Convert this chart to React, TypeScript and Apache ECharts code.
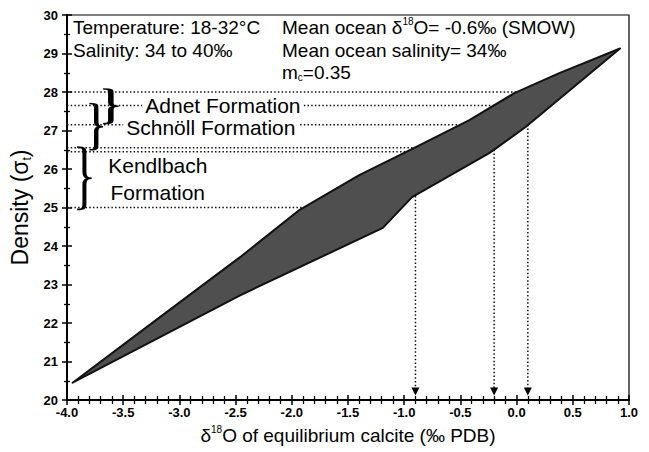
import React, { useEffect, useRef } from 'react';
import * as echarts from 'echarts';

const FONT = '"Liberation Sans", Arial, Helvetica, sans-serif';

const xMin = -4;
const xMax = 1;
const xInterval = 0.5;
const yMin = 20;
const yMax = 30;
const yInterval = 1;

// Envelope of equilibrium calcite density vs d18O (upper edge, left to right)
const upperEdge: number[][] = [
  [-3.95, 20.45], [-3.17, 22.16], [-2.46, 23.71], [-1.93, 24.94], [-1.4, 25.84],
  [-0.95, 26.49], [-0.42, 27.27], [-0.02, 27.97], [0.38, 28.49], [0.92, 29.13],
];
// lower edge, right to left
const lowerEdge: number[][] = [
  [0.92, 29.13], [0.08, 27.09], [-0.24, 26.42], [-0.93, 25.27], [-1.19, 24.47],
  [-2.46, 22.72], [-3.95, 20.45],
];

// horizontal dotted level lines (density) and where they reach the envelope
const levelY = [28.0, 27.65, 27.15, 26.55, 26.45, 25.0];
const levelEndX = [0.05, -0.18, -0.43, -0.88, -0.96, -1.88];

// vertical arrows down to the d18O axis
const arrowX = [-0.9, -0.2, 0.1];
const arrowTopY = [25.3, 26.5, 27.15];
const arrowTipY = 20.22;

const formationNames = ['Adnet Formation', 'Schnöll Formation', 'Kendlbach', 'Formation'];
const formationLabelX = [-3.33, -3.5, -3.66, -3.64];
const formationLabelY = [27.65, 27.07, 26.1, 25.4];

const braceTopY = [28.08, 27.7, 26.57];
const braceBottomY = [27.18, 26.5, 24.95];
const braceLeftX = [-3.68, -3.8, -3.91];
const braceRightX = [-3.54, -3.68, -3.78];

echarts.graphic.registerShape(
  'brace',
  echarts.graphic.extendPath(
    'M0,0 C5,0 5,3 5,10 L5,40 C5,47 6,50 10,50 C6,50 5,53 5,60 L5,90 C5,97 5,100 0,100',
    {}
  )
);

const polygonPts = [...upperEdge, ...lowerEdge.slice(1, -1)];

export default function App() {
  const ref = useRef<HTMLDivElement>(null);
  useEffect(() => {
    document.body.style.margin = '0';
    const chart = echarts.init(ref.current!, null, { renderer: 'svg' });
    const tickLabel = { fontFamily: FONT, fontWeight: 'bold' as const, fontSize: 13, color: '#000' };
    const axisBase = (extra: any) => ({
      type: 'value',
      splitLine: { show: false },
      ...extra,
    });
    const series: any[] = [];
    levelY.forEach((ly, i) => {
      series.push({
        type: 'line',
        data: [[xMin, ly], [levelEndX[i], ly]],
        symbol: 'none',
        lineStyle: { type: [1.5, 2.2], color: '#111', width: 1.5 },
        z: 2,
        silent: true,
      });
    });
    arrowX.forEach((ax, i) => {
      series.push({
        type: 'line',
        data: [
          { value: [ax, arrowTopY[i]], symbol: 'none' },
          { value: [ax, arrowTipY], symbol: 'triangle', symbolSize: [8, 8], symbolRotate: 180 },
        ],
        showSymbol: true,
        itemStyle: { color: '#000' },
        lineStyle: { type: [1.5, 2.2], color: '#111', width: 1.5 },
        z: 2,
        silent: true,
      });
    });
    series.push({
      type: 'custom',
      data: [[xMin, yMin]],
      z: 5,
      silent: true,
      renderItem: (_params: any, api: any) => ({
        type: 'polygon',
        shape: { points: polygonPts.map((p) => api.coord(p)) },
        style: { fill: '#4f4f4f', stroke: '#111', lineWidth: 2, lineJoin: 'round' },
      }),
    });

    chart.setOption({
      animation: false,
      backgroundColor: '#fff',
      grid: {
        left: 67, right: 20, top: 15, bottom: 52,
        containLabel: false, outerBoundsMode: 'none',
        show: true, borderColor: '#000', borderWidth: 1.2,
      },
      xAxis: [
        axisBase({
          min: xMin, max: xMax, interval: xInterval, position: 'bottom',
          axisLine: { show: true, onZero: false, lineStyle: { color: '#000', width: 2 } },
          axisTick: { show: true, length: 5, lineStyle: { color: '#000', width: 1.5 } },
          minorTick: { show: true, splitNumber: 5, length: 4, lineStyle: { color: '#000', width: 1.3 } },
          axisLabel: { ...tickLabel, margin: 6, formatter: (v: number) => v.toFixed(1) },
          name: '{d|δ}{s|18}{d|O of equilibrium calcite (‰ PDB)}',
          nameLocation: 'middle',
          nameGap: 24,
          nameTextStyle: {
            fontFamily: FONT, color: '#000',
            rich: {
              d: { fontFamily: FONT, fontSize: 19, color: '#000', lineHeight: 22 },
              s: { fontFamily: FONT, fontSize: 10, color: '#000', verticalAlign: 'top', lineHeight: 22 },
            },
          },
        }),
        axisBase({
          min: xMin, max: xMax, interval: xInterval, position: 'bottom',
          axisLine: { show: false, onZero: false },
          axisTick: { show: true, inside: true, length: 5, lineStyle: { color: '#000', width: 1.5 } },
          minorTick: { show: true, splitNumber: 5, length: 4, lineStyle: { color: '#000', width: 1.3 } },
          axisLabel: { show: false },
        }),
      ],
      yAxis: [
        axisBase({
          min: yMin, max: yMax, interval: yInterval, position: 'left',
          axisLine: { show: true, onZero: false, lineStyle: { color: '#000', width: 2 } },
          axisTick: { show: true, length: 5, lineStyle: { color: '#000', width: 1.5 } },
          minorTick: { show: true, splitNumber: 2, length: 3, lineStyle: { color: '#000', width: 1.3 } },
          axisLabel: { ...tickLabel, margin: 9 },
          name: '{d|Density (σ}{s|t}{d|)}',
          nameLocation: 'middle',
          nameGap: 30,
          nameTextStyle: {
            fontFamily: FONT, color: '#000',
            rich: {
              d: { fontFamily: FONT, fontSize: 23, color: '#000', lineHeight: 26 },
              s: { fontFamily: FONT, fontSize: 12, color: '#000', verticalAlign: 'bottom', lineHeight: 26 },
            },
          },
        }),
        axisBase({
          min: yMin, max: yMax, interval: yInterval, position: 'left',
          axisLine: { show: false, onZero: false },
          axisTick: { show: true, inside: true, length: 5, lineStyle: { color: '#000', width: 1.5 } },
          minorTick: { show: true, splitNumber: 2, length: 3, lineStyle: { color: '#000', width: 1.3 } },
          axisLabel: { show: false },
        }),
      ],
      series,
    });

    const toPx = (x: number, y: number) =>
      chart.convertToPixel({ xAxisIndex: 0, yAxisIndex: 0 } as any, [x, y]) as number[];

    const TOP_FS = 19;
    const graphics: any[] = [];
    const topText = (text: string, x: number, y: number, rich?: any) => ({
      type: 'text',
      x, y, z: 20,
      style: {
        text, fill: '#000', fontFamily: FONT, fontSize: TOP_FS,
        verticalAlign: 'middle', align: 'left',
        rich,
      },
    });
    const richTop = {
      d: { fontFamily: FONT, fontSize: TOP_FS, color: '#000', lineHeight: 21 },
      s: { fontFamily: FONT, fontSize: 10, color: '#000', verticalAlign: 'top', lineHeight: 21 },
      b: { fontFamily: FONT, fontSize: 10, color: '#000', verticalAlign: 'bottom', lineHeight: 21 },
    };
    graphics.push(topText('Temperature: 18-32°C', 73, 27));
    graphics.push(topText('Salinity: 34 to 40‰', 73, 50));
    graphics.push(topText('{d|Mean ocean δ}{s|18}{d|O= -0.6‰ (SMOW)}', 282, 27, richTop));
    graphics.push(topText('Mean ocean salinity= 34‰', 282, 50));
    graphics.push(topText('{d|m}{b|c}{d|=0.35}', 282, 72, richTop));

    formationNames.forEach((name, i) => {
      const p = toPx(formationLabelX[i], formationLabelY[i]);
      graphics.push({
        type: 'text',
        x: p[0], y: p[1], z: 20,
        style: {
          text: name, fill: '#000', fontFamily: FONT, fontSize: 21,
          verticalAlign: 'middle', align: 'left',
          backgroundColor: '#fff', padding: [0, 3, 0, 3],
        },
      });
    });

    braceTopY.forEach((ty, i) => {
      const pTop = toPx(braceLeftX[i], ty);
      const pBot = toPx(braceRightX[i], braceBottomY[i]);
      const w = pBot[0] - pTop[0];
      const h = pBot[1] - pTop[1];
      graphics.push({
        type: 'brace',
        x: pTop[0], y: pTop[1], z: 21,
        scaleX: w / 10, scaleY: h / 100,
        style: { fill: 'none', stroke: '#000', lineWidth: 2.6, strokeNoScale: true },
      });
    });

    chart.setOption({ graphic: graphics });
    return () => chart.dispose();
  }, []);
  return <div ref={ref} style={{ width: 649, height: 452 }} />;
}
